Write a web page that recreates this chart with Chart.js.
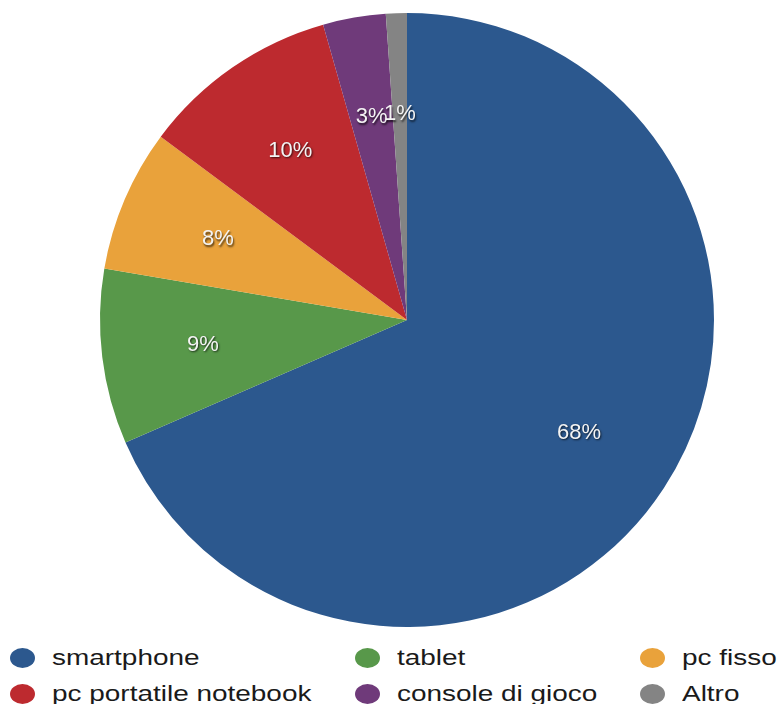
<!DOCTYPE html>
<html>
<head>
<meta charset="utf-8">
<script src="https://cdn.jsdelivr.net/npm/chart.js@4"></script>
<style>
  html, body { margin: 0; padding: 0; background: #fff; }
  .wrap { position: relative; width: 778px; height: 704px; overflow: hidden; }
  .chart-box { position: absolute; left: 0; top: 0; width: 778px; height: 634px; }
  .legend { position: absolute; left: 0; top: 640px; width: 778px; height: 64px;
    font-family: "Liberation Sans", Arial, sans-serif; font-size: 22px; color: #1a1a1a; }
  .item { position: absolute; height: 30px; }
  .dot { position: absolute; left: 0; top: 3px; width: 25px; height: 20px; border-radius: 50%; }
  .txt { position: absolute; left: 42px; top: 0; white-space: nowrap;
    transform: scaleX(1.27); transform-origin: left center; line-height: 26px; }
</style>
</head>
<body>
<div class="wrap">
  <div class="chart-box"><canvas id="pie"></canvas></div>
  <div class="legend" id="legend"></div>
</div>
<script>
const labels = ['smartphone', 'tablet', 'pc fisso', 'pc portatile notebook', 'console di gioco', 'Altro'];
const values = [68.4, 9.2, 7.5, 10.4, 3.3, 1.1];
const colors = ['#2c588e', '#58984a', '#e9a23b', '#bd2a2f', '#6f3a7a', '#848484'];

// legend order in the picture (3 columns, 2 rows)
const legendOrder = [0, 1, 2, 3, 4, 5];
const legendCols = [10, 355, 640];
const legendRows = [5, 41];

const total = values.reduce((a, b) => a + b, 0);

const sliceLabels = {
  id: 'sliceLabels',
  afterDatasetsDraw(chart) {
    const ctx = chart.ctx;
    const meta = chart.getDatasetMeta(0);
    ctx.save();
    ctx.font = '22px "Liberation Sans", Arial, sans-serif';
    ctx.textAlign = 'center';
    ctx.textBaseline = 'middle';
    ctx.fillStyle = '#f4f4f4';
    ctx.shadowColor = 'rgba(0,0,0,0.7)';
    ctx.shadowOffsetX = 1;
    ctx.shadowOffsetY = 1.5;
    ctx.shadowBlur = 2;
    meta.data.forEach((arc, i) => {
      const p = arc.getProps(['x', 'y', 'startAngle', 'endAngle', 'outerRadius'], true);
      const mid = (p.startAngle + p.endAngle) / 2;
      const r = p.outerRadius * 0.67;
      const pct = Math.round(values[i] / total * 100) + '%';
      ctx.fillText(pct, p.x + Math.cos(mid) * r, p.y + Math.sin(mid) * r);
    });
    ctx.restore();
  }
};

new Chart(document.getElementById('pie'), {
  type: 'pie',
  data: {
    labels: labels,
    datasets: [{
      data: values,
      backgroundColor: colors,
      borderWidth: 0,
    }],
  },
  options: {
    responsive: true,
    maintainAspectRatio: false,
    animation: false,
    events: [],
    layout: { padding: { left: 100, right: 64, top: 13, bottom: 7 } },
    plugins: {
      legend: { display: false },
      tooltip: { enabled: false },
    },
  },
  plugins: [sliceLabels],
});

const legend = document.getElementById('legend');
legendOrder.forEach((idx, n) => {
  const item = document.createElement('div');
  item.className = 'item';
  item.style.left = legendCols[n % 3] + 'px';
  item.style.top = legendRows[Math.floor(n / 3)] + 'px';
  const dot = document.createElement('span');
  dot.className = 'dot';
  dot.style.background = colors[idx];
  const txt = document.createElement('span');
  txt.className = 'txt';
  txt.textContent = labels[idx];
  item.appendChild(dot);
  item.appendChild(txt);
  legend.appendChild(item);
});
</script>
</body>
</html>
